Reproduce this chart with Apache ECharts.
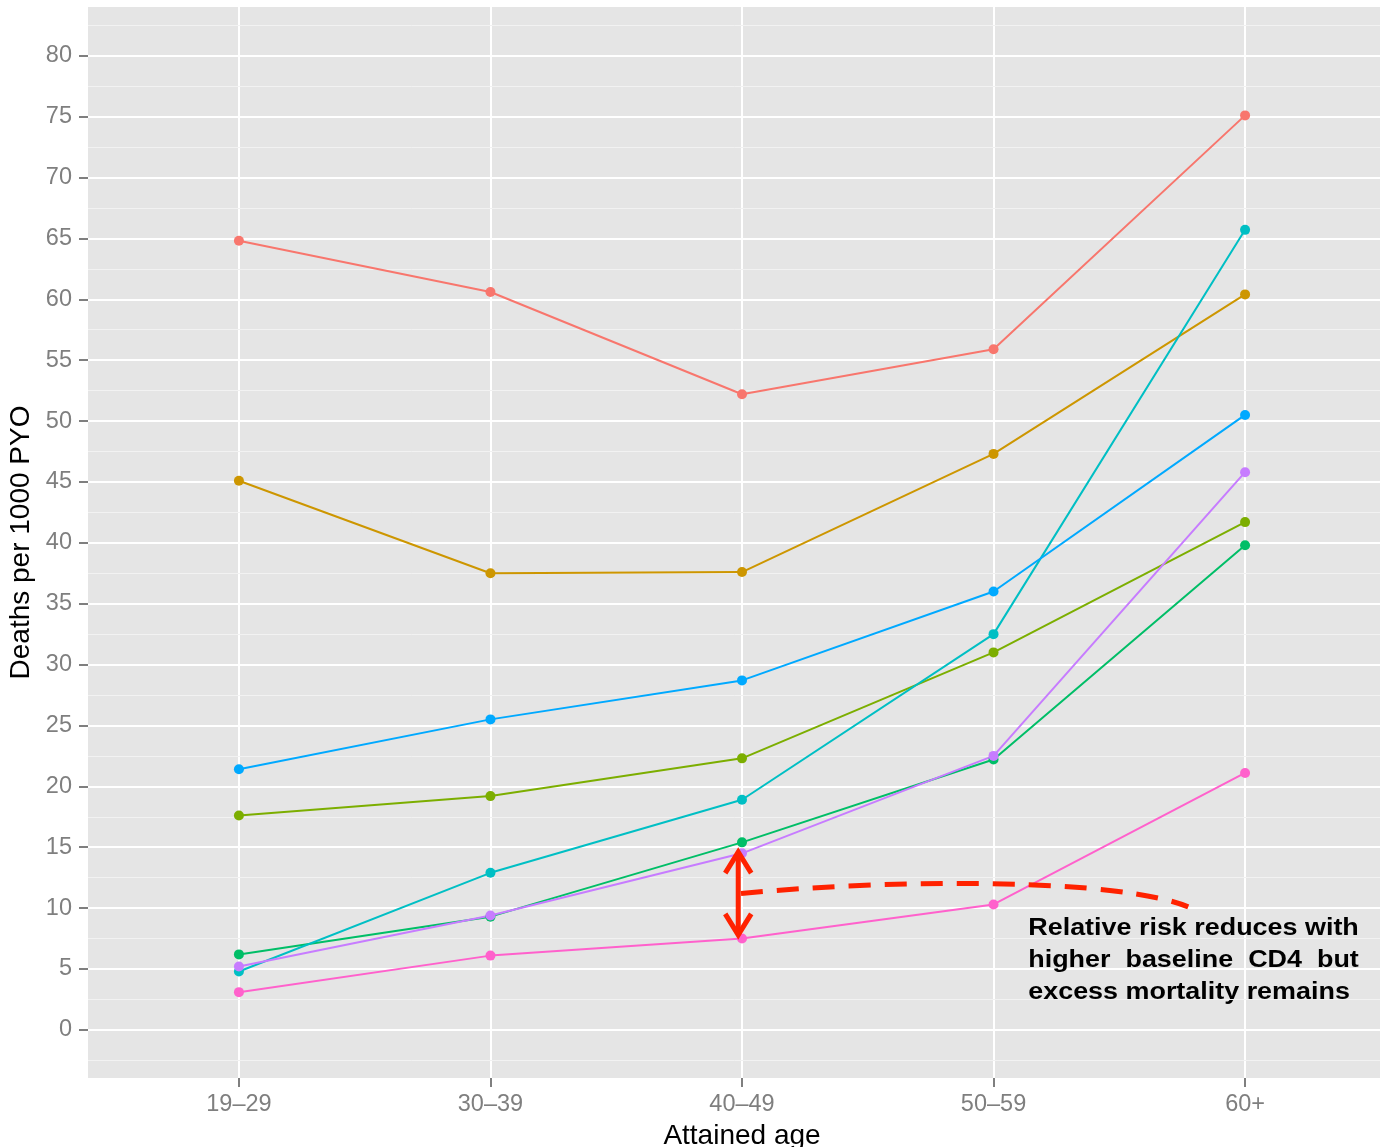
<!DOCTYPE html>
<html>
<head>
<meta charset="utf-8">
<script src="https://cdn.jsdelivr.net/npm/echarts@6/dist/echarts.min.js"></script>
<style>
  html, body { margin: 0; padding: 0; background: #ffffff; }
  #chart { width: 1380px; height: 1147px; }
</style>
</head>
<body>
<div id="chart"></div>
<script>
// Age bands on the x axis
const categories = ['19\u201329', '30\u201339', '40\u201349', '50\u201359', '60+'];

// Death rates per 1000 person-years, one array per stratum
const stratum1 = [64.8, 60.6, 52.2, 55.9, 75.1];
const stratum2 = [45.1, 37.5, 37.6, 47.3, 60.4];
const stratum3 = [17.6, 19.2, 22.3, 31.0, 41.7];
const stratum4 = [6.2, 9.3, 15.4, 22.2, 39.8];
const stratum5 = [4.8, 12.9, 18.9, 32.5, 65.7];
const stratum6 = [21.4, 25.5, 28.7, 36.0, 50.5];
const stratum7 = [5.2, 9.4, 14.5, 22.5, 45.8];
const stratum8 = [3.1, 6.1, 7.5, 10.3, 21.1];

// Y tick labels and the minor grid values between them
const yTicks = [0, 5, 10, 15, 20, 25, 30, 35, 40, 45, 50, 55, 60, 65, 70, 75, 80];
const yMinor = [-2.5, 2.5, 7.5, 12.5, 17.5, 22.5, 27.5, 32.5, 37.5, 42.5, 47.5, 52.5, 57.5, 62.5, 67.5, 72.5, 77.5, 82.5];
const xTicks = [1, 2, 3, 4, 5];

const seriesList = [
  { name: 'Stratum 1', values: stratum1, color: '#F8766D' },
  { name: 'Stratum 2', values: stratum2, color: '#CD9600' },
  { name: 'Stratum 3', values: stratum3, color: '#7CAE00' },
  { name: 'Stratum 4', values: stratum4, color: '#00BE67' },
  { name: 'Stratum 5', values: stratum5, color: '#00BFC4' },
  { name: 'Stratum 6', values: stratum6, color: '#00A9FF' },
  { name: 'Stratum 7', values: stratum7, color: '#C77CFF' },
  { name: 'Stratum 8', values: stratum8, color: '#FF61CC' }
];

const FONT = '"Liberation Sans", Arial, Helvetica, sans-serif';
const TICK_GREY = '#7F7F7F';

const chart = echarts.init(document.getElementById('chart'), null, { renderer: 'canvas' });

const series = seriesList.map((s, i) => {
  const out = {
    name: s.name,
    type: 'line',
    data: s.values.map((v, k) => [k + 1, v]),
    symbol: 'circle',
    symbolSize: 10,
    showSymbol: true,
    lineStyle: { color: s.color, width: 2 },
    itemStyle: { color: s.color },
    emphasis: { disabled: true },
    animation: false,
    z: 3
  };
  if (i === 0) {
    out.markLine = {
      silent: true,
      symbol: ['none', 'none'],
      label: { show: false },
      z: 1,
      animation: false,
      lineStyle: { color: '#F2F2F2', width: 1, type: 'solid' },
      data: yMinor.map(v => ({ yAxis: v }))
    };
  }
  return out;
});

chart.setOption({
  animation: false,
  backgroundColor: '#ffffff',
  grid: {
    left: 88, top: 7, width: 1308, height: 1071,
    show: true, backgroundColor: '#E5E5E5', borderWidth: 0,
    containLabel: false,
    outerBoundsMode: 'none'
  },
  xAxis: {
    type: 'value',
    min: 0.4, max: 5.6,
    splitNumber: 5, minInterval: 1, maxInterval: 1,
    name: 'Attained age',
    nameLocation: 'middle',
    nameGap: 40,
    nameTextStyle: { fontFamily: FONT, fontSize: 28, color: '#000000' },
    axisLine: { show: false, onZero: false },
    axisTick: { show: true, customValues: xTicks, length: 9, lineStyle: { color: TICK_GREY, width: 2 } },
    axisLabel: {
      customValues: xTicks,
      margin: 15,
      fontFamily: FONT, fontSize: 23.5, color: TICK_GREY,
      formatter: v => categories[Math.round(v) - 1] || ''
    },
    splitLine: { show: true, lineStyle: { color: '#FFFFFF', width: 2 } }
  },
  yAxis: {
    type: 'value',
    min: -3.95, max: 84,
    splitNumber: 17, minInterval: 5, maxInterval: 5,
    name: 'Deaths per 1000 PYO',
    nameLocation: 'middle',
    nameRotate: 90,
    nameGap: 50,
    nameTextStyle: { fontFamily: FONT, fontSize: 28, color: '#000000' },
    axisLine: { show: false, onZero: false },
    axisTick: { show: true, customValues: yTicks, length: 9, lineStyle: { color: TICK_GREY, width: 2 } },
    axisLabel: {
      customValues: yTicks,
      margin: 16,
      fontFamily: FONT, fontSize: 23.5, color: TICK_GREY
    },
    splitLine: { show: true, lineStyle: { color: '#FFFFFF', width: 2 } }
  },
  series: series
});

// Annotation: gap arrow, dashed link and the explanatory note (axis coordinates)
const arrowX = 2.985, arrowTop = 14.6, arrowBottom = 7.8;
const curve = { p0: [2.996, 11.2], c1: [3.63, 12.45], c2: [4.50, 12.45], p3: [4.774, 10.1] };
const noteAnchor = [4.138, 8.35];
const noteLines = [
  ['Relative', 'risk', 'reduces', 'with'],
  ['higher', 'baseline', 'CD4', 'but'],
  ['excess', 'mortality', 'remains']
];
const RED = '#FF2200';

function toPx(pt) { return chart.convertToPixel({ gridIndex: 0 }, pt); }

const at = toPx([arrowX, arrowTop]);
const ab = toPx([arrowX, arrowBottom]);
const head = 13, depth = 21;
const p0 = toPx(curve.p0), c1 = toPx(curve.c1), c2 = toPx(curve.c2), p3 = toPx(curve.p3);

const graphics = [
  {
    type: 'line', silent: true, z: 10,
    shape: { x1: at[0], y1: at[1] + 2, x2: ab[0], y2: ab[1] - 2 },
    style: { stroke: RED, lineWidth: 5 }
  },
  {
    type: 'polyline', silent: true, z: 10,
    shape: { points: [[at[0] - head, at[1] + depth], [at[0], at[1]], [at[0] + head, at[1] + depth]] },
    style: { stroke: RED, lineWidth: 5, fill: null, lineJoin: 'miter' }
  },
  {
    type: 'polyline', silent: true, z: 10,
    shape: { points: [[ab[0] - head, ab[1] - depth], [ab[0], ab[1]], [ab[0] + head, ab[1] - depth]] },
    style: { stroke: RED, lineWidth: 5, fill: null, lineJoin: 'miter' }
  },
  {
    type: 'bezierCurve', silent: true, z: 10,
    shape: { x1: p0[0], y1: p0[1], cpx1: c1[0], cpy1: c1[1], cpx2: c2[0], cpy2: c2[1], x2: p3[0], y2: p3[1] },
    style: { stroke: RED, lineWidth: 5, fill: null, lineDash: [22, 14] }
  }
];

// Justified paragraph in a horizontally widened text box
const noteFont = 'bold 23px ' + FONT;
const noteStretch = 1.17;
const ctx = document.createElement('canvas').getContext('2d');
ctx.font = noteFont;
const spaceW = ctx.measureText(' ').width;
const lineW = noteLines.map(ws => ws.reduce((a, w) => a + ctx.measureText(w).width, 0) + spaceW * (ws.length - 1));
const fullW = lineW[0];
const na = toPx(noteAnchor);
const lineH = 32;
const noteChildren = [];
noteLines.forEach((words, li) => {
  const y = li * lineH;
  const last = li === noteLines.length - 1;
  const wordsW = words.reduce((a, w) => a + ctx.measureText(w).width, 0);
  const gap = last ? spaceW : (fullW - wordsW) / (words.length - 1);
  let x = 0;
  words.forEach(w => {
    noteChildren.push({
      type: 'text', silent: true,
      x: x, y: y,
      style: { text: w, font: noteFont, fill: '#000000', textAlign: 'left', textVerticalAlign: 'middle' }
    });
    x += ctx.measureText(w).width + gap;
  });
});
graphics.push({
  type: 'group', silent: true, z: 10,
  x: na[0], y: na[1], scaleX: noteStretch, scaleY: 1,
  children: noteChildren
});

chart.setOption({ graphic: graphics });
</script>
</body>
</html>
